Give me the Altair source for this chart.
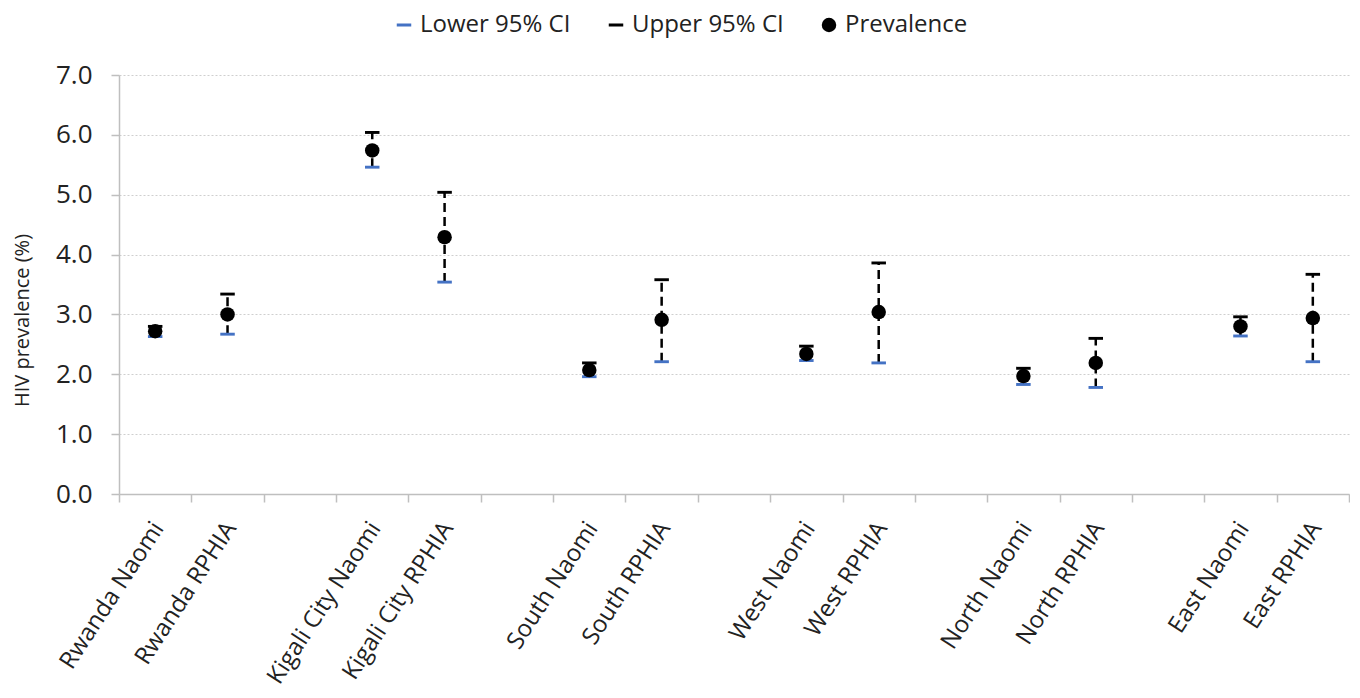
import altair as alt
import pandas as pd

categories = ["Rwanda Naomi", "Rwanda RPHIA", " ",
              "Kigali City Naomi", "Kigali City RPHIA", "  ",
              "South Naomi", "South RPHIA", "   ",
              "West Naomi", "West RPHIA", "    ",
              "North Naomi", "North RPHIA", "     ",
              "East Naomi", "East RPHIA"]

labels = ["Rwanda Naomi", "Rwanda RPHIA", "Kigali City Naomi", "Kigali City RPHIA",
          "South Naomi", "South RPHIA", "West Naomi", "West RPHIA",
          "North Naomi", "North RPHIA", "East Naomi", "East RPHIA"]
prevalence = [2.72, 3.00, 5.74, 4.29, 2.07, 2.91, 2.34, 3.04, 1.97, 2.19, 2.80, 2.94]
lower = [2.63, 2.67, 5.46, 3.54, 1.96, 2.21, 2.23, 2.19, 1.83, 1.78, 2.64, 2.21]
upper = [2.80, 3.34, 6.04, 5.04, 2.19, 3.58, 2.47, 3.86, 2.10, 2.60, 2.96, 3.67]

series = ["Lower 95% CI", "Upper 95% CI", "Prevalence"]

df = pd.DataFrame({
    "label": labels,
    "Lower 95% CI": lower,
    "Upper 95% CI": upper,
    "Prevalence": prevalence,
})

FONT = "Open Sans"
AXIS_GREY = "#bfbfbf"
DASH = "M-1,-0.2H1V0.2H-1Z"

x_enc = alt.X(
    "label:N",
    sort=categories,
    scale=alt.Scale(domain=categories, paddingInner=0, paddingOuter=0),
    axis=alt.Axis(
        title=None,
        labelAngle=-57,
        labelAlign="right",
        labelBaseline="middle",
        labelFontSize=24,
        labelFont=FONT,
        labelColor="#222222",
        labelPadding=22,
        labelOffset=3,
        labelLimit=400,
        labelOverlap=False,
        tickBand="extent",
        tickSize=8,
        tickColor=AXIS_GREY,
        tickWidth=1.5,
        domainColor=AXIS_GREY,
        domainWidth=1.5,
        grid=False,
    ),
)

y_scale = alt.Scale(domain=[0, 7], nice=False)
y_axis = alt.Axis(
    title="HIV prevalence (%)",
    titleFont=FONT,
    titleFontSize=20,
    titleFontWeight="normal",
    titleColor="#222222",
    titleX=-97,
    titleY=245,
    titleAngle=270,
    titleAlign="center",
    titleBaseline="middle",
    values=[0, 1, 2, 3, 4, 5, 6, 7],
    format=".1f",
    labelFont=FONT,
    labelFontSize=26,
    labelColor="#222222",
    labelPadding=19,
    tickSize=8,
    tickColor=AXIS_GREY,
    tickWidth=1.5,
    domainColor=AXIS_GREY,
    domainWidth=1.5,
    grid=True,
    gridColor="#cfcfcf",
    gridDash=[2, 2],
    gridWidth=1,
)

base = alt.Chart(df)

rules = base.mark_rule(color="black", strokeWidth=2.5, strokeDash=[9, 5]).encode(
    x=x_enc,
    y=alt.Y("Lower 95% CI:Q", scale=y_scale, axis=y_axis),
    y2="Upper 95% CI:Q",
)

points = base.transform_fold(series, as_=["series", "value"]).mark_point(
    filled=True, opacity=1, strokeWidth=0
).encode(
    x=x_enc,
    y=alt.Y("value:Q", scale=y_scale, axis=y_axis),
    color=alt.Color(
        "series:N",
        scale=alt.Scale(domain=series, range=["#4472C4", "#000000", "#000000"]),
        legend=alt.Legend(
            title=None,
            orient="none",
            legendX=273,
            legendY=-66,
            direction="horizontal",
            labelFont=FONT,
            labelFontSize=24,
            labelColor="#222222",
            labelLimit=400,
            symbolSize=80,
            symbolStrokeWidth=0,
            columnPadding=33,
            labelOffset=4,
            clipHeight=32,
        ),
    ),
    shape=alt.Shape(
        "series:N",
        scale=alt.Scale(domain=series, range=[DASH, DASH, "circle"]),
    ),
    size=alt.Size(
        "series:N",
        scale=alt.Scale(domain=series, range=[210, 210, 120]),
        legend=None,
    ),
)

chart = alt.layer(rules, points).properties(
    width=1230,
    height=419,
    padding={"left": 4, "top": 1, "right": 0, "bottom": 0},
).configure_view(stroke=None)

chart.save("out.html", embed_options={"renderer": "svg", "actions": False})
